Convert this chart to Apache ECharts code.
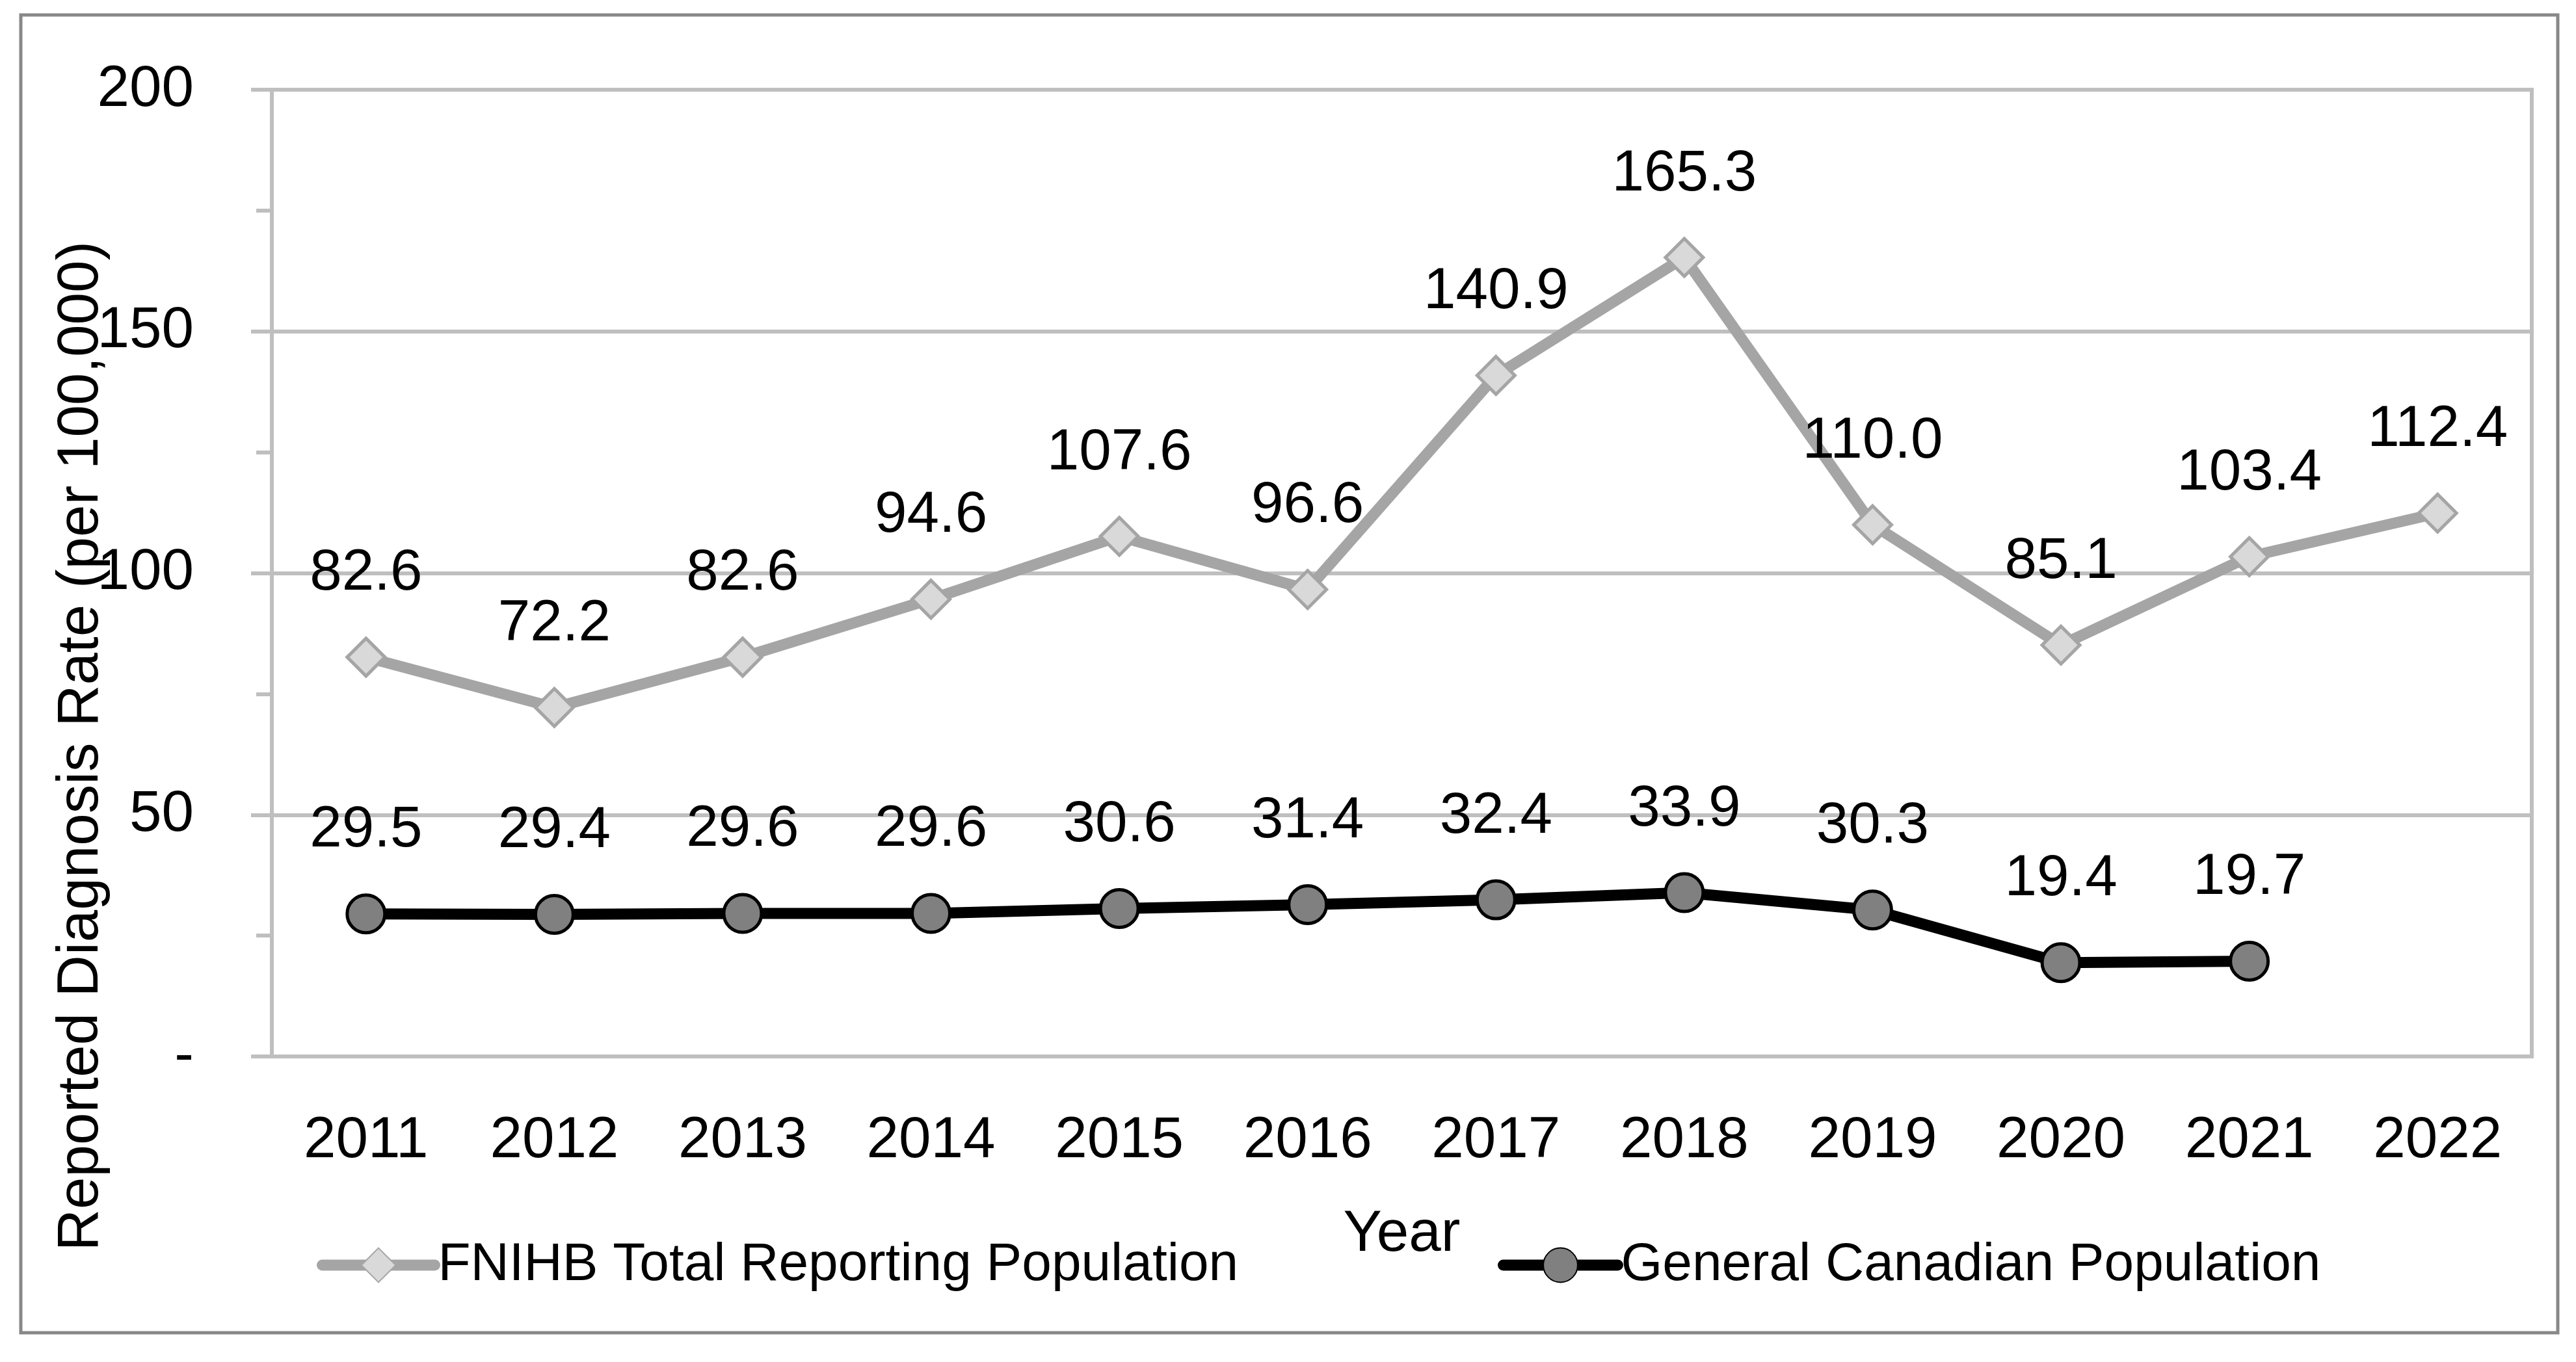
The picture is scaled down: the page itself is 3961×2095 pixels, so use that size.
<!DOCTYPE html>
<html>
<head>
<meta charset="utf-8">
<script src="https://cdn.jsdelivr.net/npm/echarts@6/dist/echarts.min.js"></script>
<style>
html,body{margin:0;padding:0;background:#ffffff;}
#chart{width:3961px;height:2095px;}
</style>
</head>
<body>
<div id="chart"></div>
<script>
// ---- data ----
const years = ['2011','2012','2013','2014','2015','2016','2017','2018','2019','2020','2021','2022'];
const fnihbRates = [82.6, 72.2, 82.6, 94.6, 107.6, 96.6, 140.9, 165.3, 110.0, 85.1, 103.4, 112.4];
const canadaRates = [29.5, 29.4, 29.6, 29.6, 30.6, 31.4, 32.4, 33.9, 30.3, 19.4, 19.7, null];
const seriesNames = ['FNIHB Total Reporting Population', 'General Canadian Population'];
const yTickValues = [0, 50, 100, 150, 200];
const yTickLabels = ['-', '50', '100', '150', '200'];
const xTitle = 'Year';
const yTitle = 'Reported Diagnosis Rate (per 100,000)';

// ---- style ----
const FONT = 'Liberation Sans';
const GRID_COLOR = '#bfbfbf';
const TEXT = '#000000';
const LINE_W = 17;

const chart = echarts.init(document.getElementById('chart'), null, {renderer: 'canvas'});

const labelStyle = {
  show: true,
  position: 'top',
  distance: 52,
  fontFamily: FONT,
  fontSize: 89,
  lineHeight: 89,
  color: TEXT,
  formatter: p => (p.value == null ? '' : Number(p.value).toFixed(1))
};

const option = {
  backgroundColor: '#ffffff',
  animation: false,
  textStyle: {fontFamily: FONT},
  graphic: [{
    type: 'rect',
    silent: true,
    z: -10,
    shape: {x: 32, y: 23, width: 3901, height: 2027},
    style: {fill: 'none', stroke: '#888888', lineWidth: 5}
  }],
  grid: {
    left: 418, right: 68, top: 138, bottom: 470,
    show: true, borderColor: GRID_COLOR, borderWidth: 6,
    backgroundColor: 'transparent',
    outerBoundsMode: 'none'
  },
  legend: [
    {
      data: [seriesNames[0]],
      left: 487, top: 1905,
      padding: 0,
      itemWidth: 173, itemHeight: 66,
      lineStyle: {width: LINE_W, cap: 'round'},
      textStyle: {fontFamily: FONT, fontSize: 82, color: TEXT}
    },
    {
      data: [seriesNames[1]],
      left: 2303, top: 1905,
      padding: 0,
      itemWidth: 176, itemHeight: 66,
      lineStyle: {width: LINE_W, cap: 'round'},
      textStyle: {fontFamily: FONT, fontSize: 82, color: TEXT}
    }
  ],
  xAxis: {
    type: 'category',
    data: years,
    boundaryGap: true,
    name: xTitle,
    nameLocation: 'middle',
    nameGap: 230,
    nameMoveOverlap: false,
    nameTextStyle: {fontFamily: FONT, fontSize: 89, lineHeight: 89, color: TEXT},
    axisLine: {show: true, lineStyle: {color: GRID_COLOR, width: 6}},
    axisTick: {show: false},
    axisLabel: {fontFamily: FONT, fontSize: 89, lineHeight: 89, color: TEXT, margin: 86, interval: 0},
    splitLine: {show: false}
  },
  yAxis: {
    type: 'value',
    min: yTickValues[0],
    max: yTickValues[yTickValues.length - 1],
    interval: yTickValues[1] - yTickValues[0],
    name: yTitle,
    nameLocation: 'middle',
    nameRotate: 90,
    nameGap: 248,
    nameMoveOverlap: false,
    nameTextStyle: {fontFamily: FONT, fontSize: 89, lineHeight: 89, color: TEXT, padding: [0, 532, 0, 0]},
    axisLine: {show: true, lineStyle: {color: GRID_COLOR, width: 6}},
    axisTick: {show: true, inside: false, length: 32, lineStyle: {color: GRID_COLOR, width: 6}},
    minorTick: {show: true, splitNumber: 2, length: 24, lineStyle: {color: GRID_COLOR, width: 6}},
    minorSplitLine: {show: false},
    axisLabel: {
      fontFamily: FONT, fontSize: 89, color: TEXT, margin: 120,
      formatter: v => {
        const i = yTickValues.indexOf(v);
        return i >= 0 ? yTickLabels[i] : String(v);
      }
    },
    splitLine: {show: true, lineStyle: {color: GRID_COLOR, width: 6}}
  },
  series: [
    {
      name: seriesNames[0],
      type: 'line',
      data: fnihbRates,
      symbol: 'diamond',
      symbolSize: 58,
      lineStyle: {color: '#a5a5a5', width: LINE_W},
      itemStyle: {color: '#d9d9d9', borderColor: '#a5a5a5', borderWidth: 5},
      emphasis: {disabled: true},
      label: labelStyle,
      z: 2
    },
    {
      name: seriesNames[1],
      type: 'line',
      data: canadaRates,
      connectNulls: false,
      symbol: 'circle',
      symbolSize: 58,
      lineStyle: {color: '#000000', width: LINE_W},
      itemStyle: {color: '#808080', borderColor: '#000000', borderWidth: 5},
      emphasis: {disabled: true},
      label: labelStyle,
      z: 3
    }
  ]
};

chart.setOption(option);
</script>
</body>
</html>
